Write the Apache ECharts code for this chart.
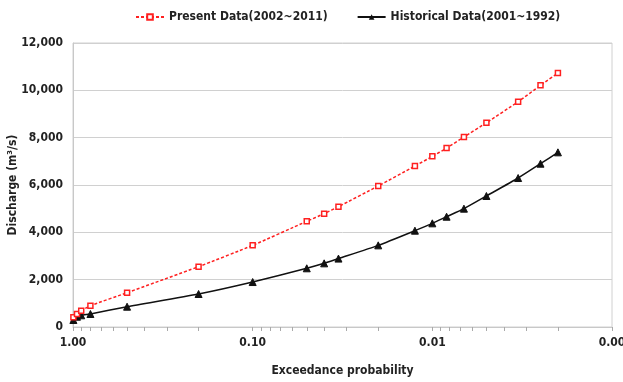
<!DOCTYPE html>
<html>
<head>
<meta charset="utf-8">
<script src="https://cdn.jsdelivr.net/npm/echarts@6/dist/echarts.min.js"></script>
<style>html,body{margin:0;padding:0;background:#fff}#c{width:623px;height:382px}</style>
</head>
<body>
<div id="c"></div>
<script>
// Exceedance probabilities (x) for each plotted point
const probs = [0.995, 0.95, 0.9, 0.8, 0.5, 0.2, 0.1, 0.05, 0.04, 0.0333, 0.02, 0.0125, 0.01, 0.00833, 0.00667, 0.005, 0.00333, 0.0025, 0.002];
// Discharge values (m3/s)
const present = [410, 549, 690, 900, 1450, 2550, 3450, 4465, 4790, 5085, 5960, 6800, 7210, 7560, 8030, 8630, 9520, 10210, 10730];
const historical = [296, 435, 494, 549, 858, 1394, 1900, 2480, 2690, 2890, 3450, 4070, 4380, 4660, 5000, 5535, 6295, 6900, 7380];
const seriesNames = ['Present Data(2002~2011)', 'Historical Data(2001~1992)'];
// x tick labels (decades)
const xLabelValues = [1, 0.1, 0.01, 0.001];

const xTickValues = [];
for (let d = 0.001; d < 1; d *= 10) {
  for (let k = 1; k < 10; k++) xTickValues.push(+(d * k).toPrecision(3));
}
xTickValues.push(1);

const FONT = "'DejaVu Sans Condensed', 'Liberation Sans Narrow', 'Liberation Sans', Arial, sans-serif";
const chart = echarts.init(document.getElementById('c'));
chart.setOption({
  animation: false,
  textStyle: { fontFamily: FONT },
  legend: {
    top: 6, left: 130,
    itemWidth: 28, itemHeight: 7, itemGap: 29,
    textStyle: { fontFamily: FONT, fontSize: 12, color: '#222', fontWeight: 'bold' },
    data: seriesNames
  },
  grid: { left: 73, right: 11, top: 43, bottom: 55, show: true, borderColor: '#d0d0d0', borderWidth: 1, outerBoundsMode: 'none', containLabel: false },
  xAxis: {
    type: 'log', logBase: 10, min: 0.001, max: 1, inverse: true,
    name: 'Exceedance probability', nameLocation: 'middle', nameGap: 38, nameMoveOverlap: false,
    nameTextStyle: { fontFamily: FONT, fontSize: 12, color: '#222', fontWeight: 'bold' },
    axisLine: { show: true, lineStyle: { color: '#c8c8c8' } },
    axisTick: { show: true, customValues: xTickValues, length: 4, lineStyle: { color: '#aaa' } },
    axisLabel: { customValues: xLabelValues, formatter: v => v.toFixed(2), fontFamily: FONT, fontSize: 12, color: '#222', fontWeight: 'bold', margin: 10 },
    splitLine: { show: false }
  },
  yAxis: {
    type: 'value', min: 0, max: 12000, interval: 2000,
    name: 'Discharge (m³/s)', nameLocation: 'middle', nameGap: 54, nameRotate: 90, nameMoveOverlap: false,
    nameTextStyle: { fontFamily: FONT, fontSize: 12, color: '#222', fontWeight: 'bold' },
    axisLine: { show: true, lineStyle: { color: '#c8c8c8' } },
    axisTick: { show: false },
    axisLabel: { formatter: v => v.toLocaleString('en-US'), fontFamily: FONT, fontSize: 12, color: '#222', fontWeight: 'bold', margin: 10 },
    splitLine: { show: true, lineStyle: { color: '#d0d0d0' } }
  },
  series: [
    {
      name: seriesNames[0], type: 'line',
      data: probs.map((p, i) => [p, present[i]]),
      symbol: 'rect', symbolSize: 5,
      itemStyle: { color: '#fff', borderColor: '#ff2020', borderWidth: 1.5 },
      lineStyle: { color: '#ff2020', width: 1.5, type: [3, 2] },
      smooth: 0.2, z: 3
    },
    {
      name: seriesNames[1], type: 'line',
      data: probs.map((p, i) => [p, historical[i]]),
      symbol: 'triangle', symbolSize: 7,
      itemStyle: { color: '#111', borderColor: '#111' },
      lineStyle: { color: '#111', width: 1.5 },
      smooth: 0.2, z: 2
    }
  ]
});
</script>
</body>
</html>
